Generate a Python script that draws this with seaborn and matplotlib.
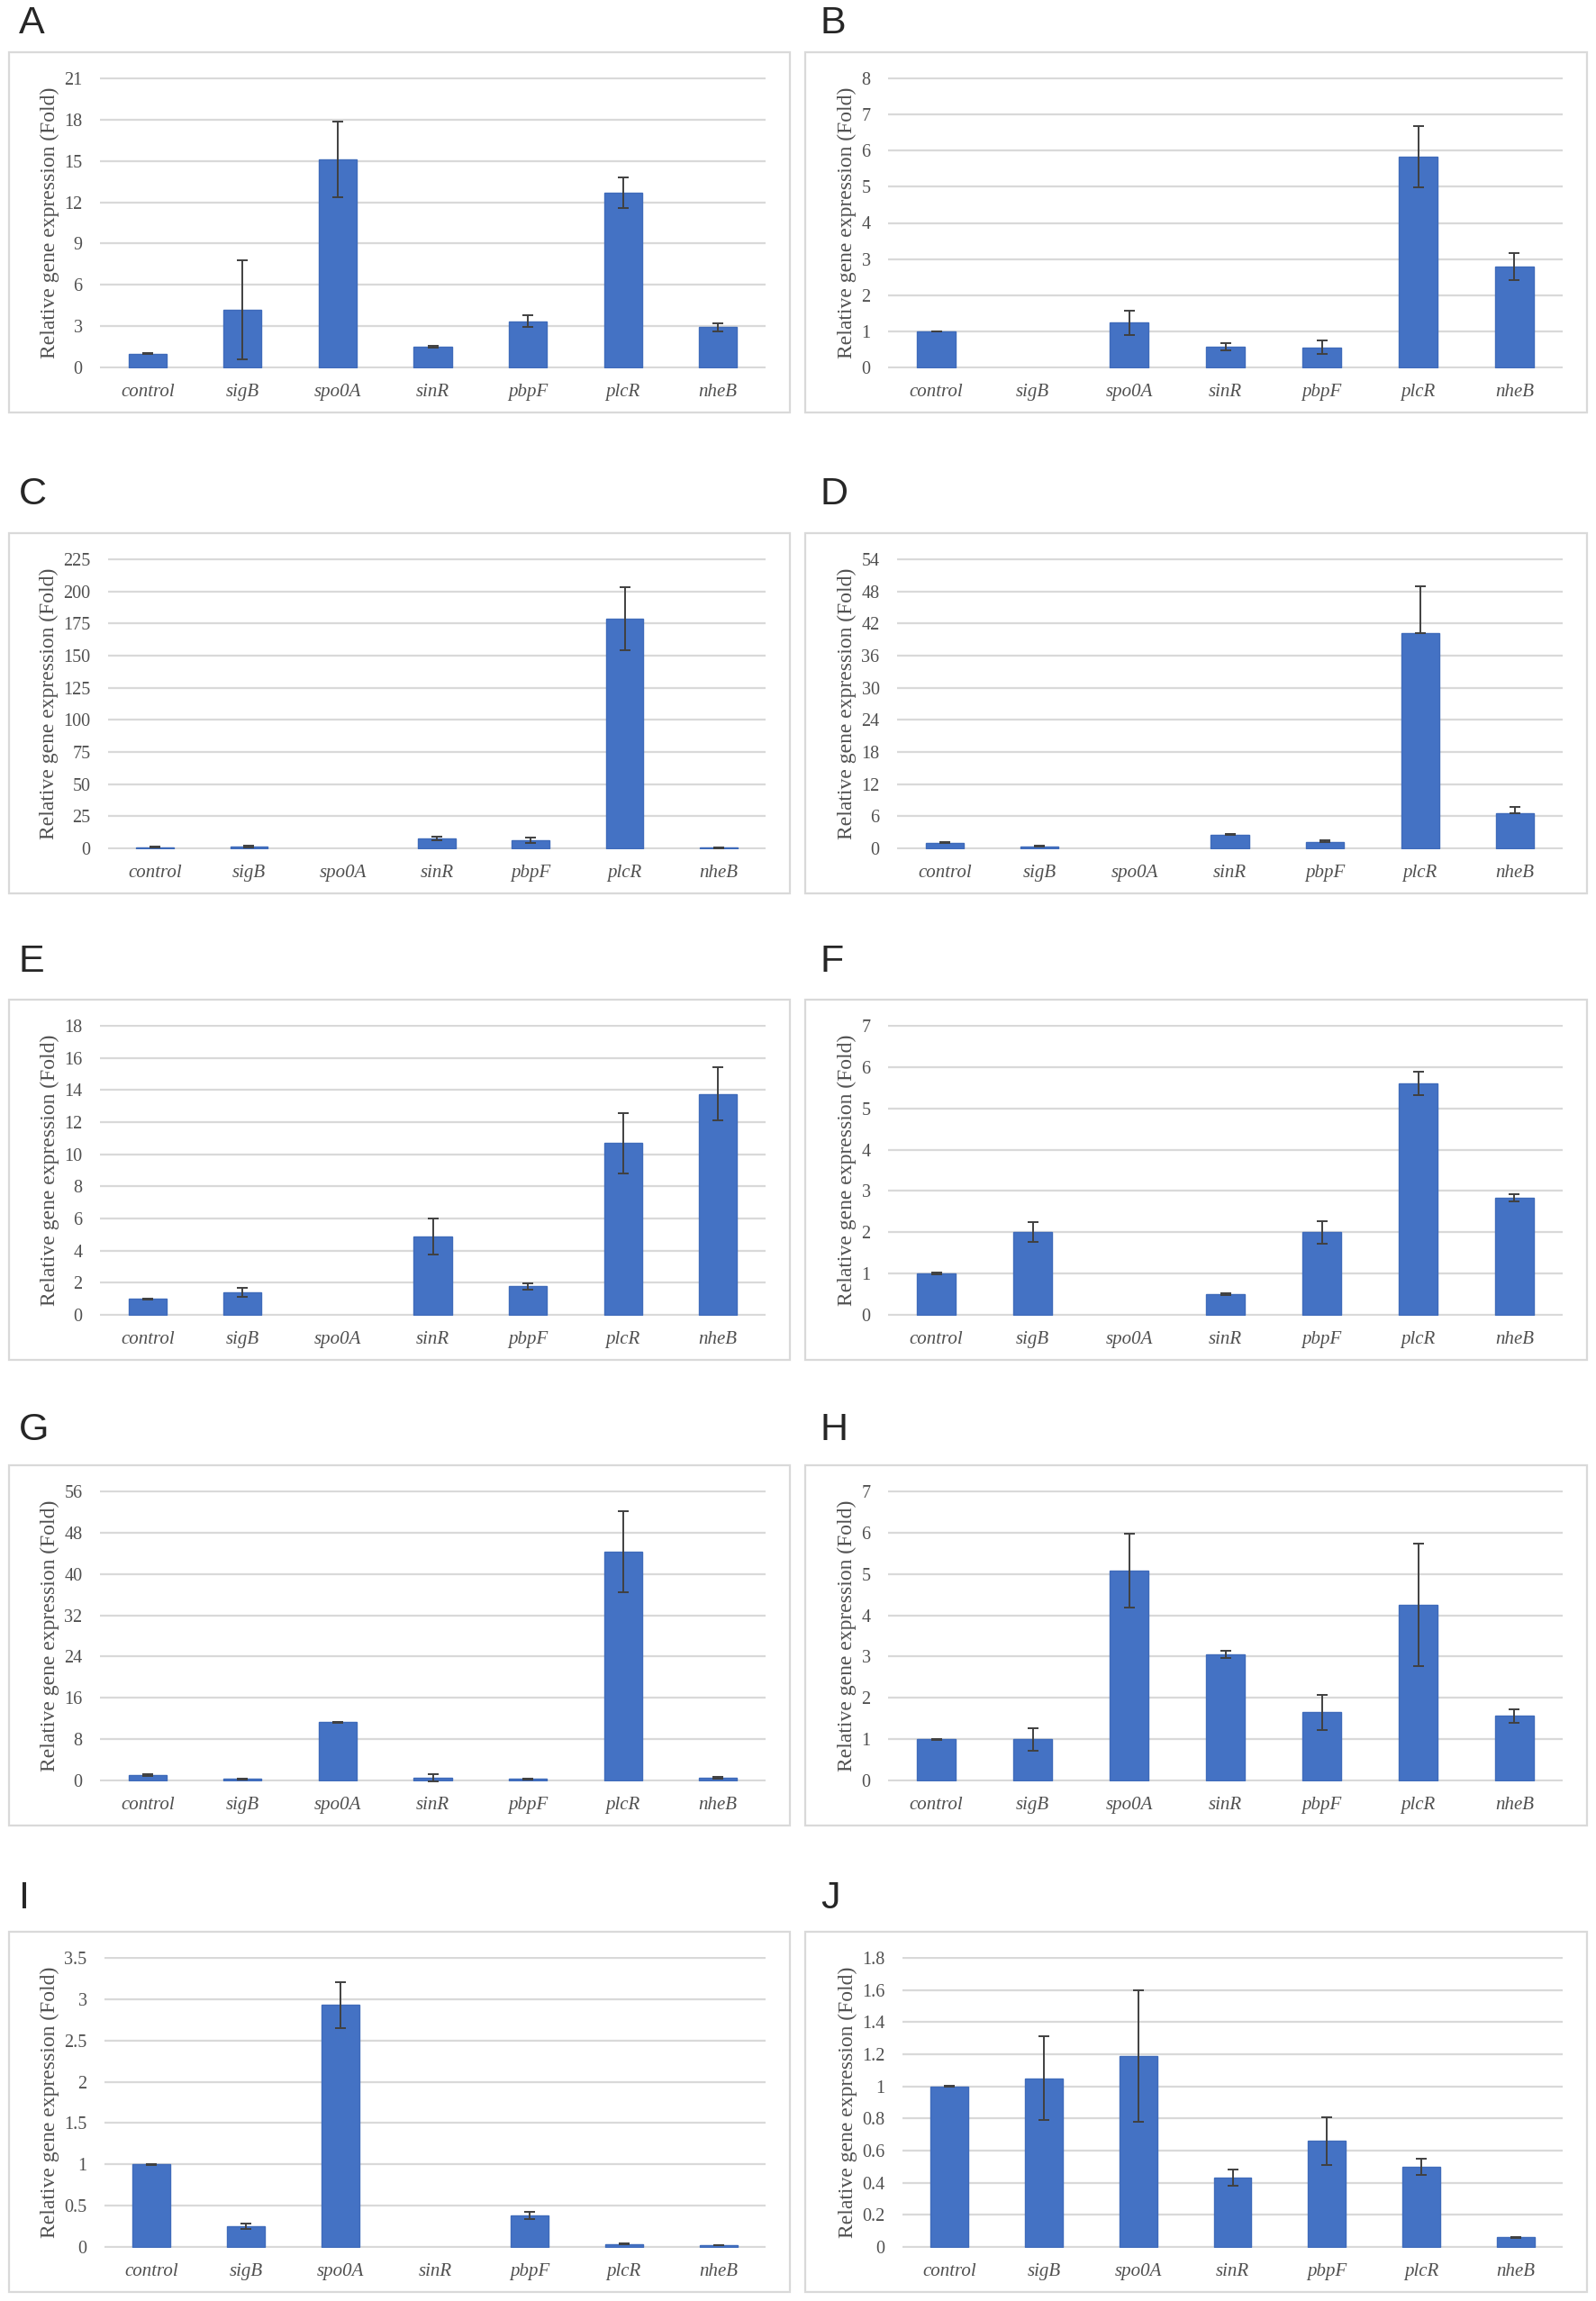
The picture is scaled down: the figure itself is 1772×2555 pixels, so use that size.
import numpy as np
import pandas as pd
import matplotlib
matplotlib.use("Agg")
import matplotlib.pyplot as plt
from matplotlib.patches import Rectangle
from matplotlib.ticker import MultipleLocator, FuncFormatter
import seaborn as sns

# gene names on the x axis (same in all panels)
genes = ["control", "sigB", "spo0A", "sinR", "pbpF", "plcR", "nheB"]
panel_letters = ["A", "B", "C", "D", "E", "F", "G", "H", "I", "J"]
nan = np.nan

# mean fold change and error (SD), nan = no bar
a_mean = [1.0, 4.16, 15.1, 1.52, 3.36, 12.7, 2.92]
a_err = [0.03, 3.6, 2.75, 0.06, 0.42, 1.12, 0.3]
b_mean = [1.0, nan, 1.24, 0.58, 0.56, 5.83, 2.79]
b_err = [0.01, nan, 0.33, 0.1, 0.19, 0.84, 0.38]
c_mean = [1.0, 1.3, nan, 7.5, 6.4, 179.0, 0.5]
c_err = [0.3, 0.6, nan, 1.5, 2.1, 24.5, 0.2]
d_mean = [1.0, 0.3, nan, 2.5, 1.25, 40.2, 6.5]
d_err = [0.15, 0.15, nan, 0.25, 0.25, 8.7, 1.3]   # only the + side is drawn
e_mean = [1.0, 1.4, nan, 4.87, 1.77, 10.7, 13.76]
e_err = [0.03, 0.27, nan, 1.12, 0.18, 1.88, 1.66]
f_mean = [1.0, 2.0, nan, 0.51, 2.0, 5.6, 2.84]
f_err = [0.02, 0.24, nan, 0.02, 0.27, 0.28, 0.09]
g_mean = [1.0, 0.3, 11.26, 0.6, 0.3, 44.3, 0.55]
g_err = [0.15, 0.1, 0.1, 0.7, 0.1, 7.8, 0.15]
h_mean = [1.0, 1.0, 5.08, 3.05, 1.65, 4.25, 1.56]
h_err = [0.01, 0.27, 0.9, 0.09, 0.42, 1.48, 0.16]
i_mean = [1.0, 0.25, 2.93, nan, 0.38, 0.036, 0.022]
i_err = [0.005, 0.035, 0.28, nan, 0.045, 0.007, 0.005]
j_mean = [1.0, 1.05, 1.19, 0.43, 0.66, 0.5, 0.06]
j_err = [0.002, 0.26, 0.41, 0.05, 0.15, 0.05, 0.002]

y_max = [21, 8, 225, 54, 18, 7, 56, 7, 3.5, 1.8]
y_step = [3, 1, 25, 6, 2, 1, 8, 1, 0.5, 0.2]

means = [a_mean, b_mean, c_mean, d_mean, e_mean, f_mean, g_mean, h_mean, i_mean, j_mean]
errs = [a_err, b_err, c_err, d_err, e_err, f_err, g_err, h_err, i_err, j_err]
plus_only = [False, False, False, True, False, False, False, False, False, False]

sns.set_style("white")
plt.rcParams["font.family"] = ["Liberation Serif", "DejaVu Serif"]

W, H = 1772, 2555
fig = plt.figure(figsize=(W / 100, H / 100), dpi=100)

# layout in pixels
box_left = [10, 894]
box_right = [877, 1762]
box_top = [58, 592, 1110, 1627, 2145]
letter_y = [26, 549, 1068, 1588, 2108]
letter_x = [21, 911]
plot_left = [101, 92, 110, 102, 101, 92, 101, 92, 106, 108]  # offset from box left

bar_color = "#4472C4"
grid_color = "#D9D9D9"
text_color = "#505050"

for i in range(10):
    row, col = i // 2, i % 2
    bt = box_top[row]
    # panel frame
    fig.add_artist(Rectangle((box_left[col] / W, 1 - (bt + 400) / H),
                             (box_right[col] - box_left[col]) / W, 400 / H,
                             transform=fig.transFigure, fill=False,
                             edgecolor=grid_color, linewidth=1.6))
    fig.text(letter_x[col] / W, 1 - letter_y[row] / H, panel_letters[i],
             family="Liberation Sans", fontsize=31, ha="left", va="center")

    x0 = box_left[col] + plot_left[i]
    x1 = box_right[col] - 27
    y0 = bt + 28
    y1 = bt + 351
    ax = fig.add_axes([x0 / W, 1 - y1 / H, (x1 - x0) / W, (y1 - y0) / H])

    df = pd.DataFrame({"gene": genes, "value": means[i], "err": errs[i]})
    df_ok = df.dropna()
    sns.barplot(data=df_ok, x="gene", y="value", order=genes, color=bar_color,
                saturation=1, width=0.4, errorbar=None, ax=ax,
                edgecolor="#3F6BBA", linewidth=1)

    xpos = np.array([genes.index(g) for g in df_ok["gene"]])
    e = df_ok["err"].to_numpy()
    yerr = np.vstack([np.zeros_like(e), e]) if plus_only[i] else e
    ax.errorbar(xpos, df_ok["value"].to_numpy(), yerr=yerr, fmt="none",
                ecolor="#404040", elinewidth=1.4, capsize=4.5, capthick=1.4)

    ym = y_max[i]
    ax.set_xlim(-0.5, 6.5)
    ax.set_ylim(-ym * 0.003, ym * 1.003)
    ax.yaxis.set_major_locator(MultipleLocator(y_step[i]))
    ax.yaxis.set_major_formatter(FuncFormatter(lambda v, p: f"{v:g}"))
    ax.yaxis.grid(True, color=grid_color, linewidth=1.6)
    ax.set_axisbelow(True)
    for s in ax.spines.values():
        s.set_visible(False)
    ax.tick_params(axis="both", length=0)
    ax.tick_params(axis="y", labelsize=14.5, pad=14, labelcolor=text_color)
    ax.tick_params(axis="x", labelsize=15, pad=12, labelcolor=text_color)
    for lab in ax.get_xticklabels():
        lab.set_fontstyle("italic")
    ax.set_xlabel("")
    ax.set_ylabel("Relative gene expression (Fold)", fontsize=17,
                  color=text_color, labelpad=4)

fig.savefig("out.png", dpi=100, facecolor="white")
